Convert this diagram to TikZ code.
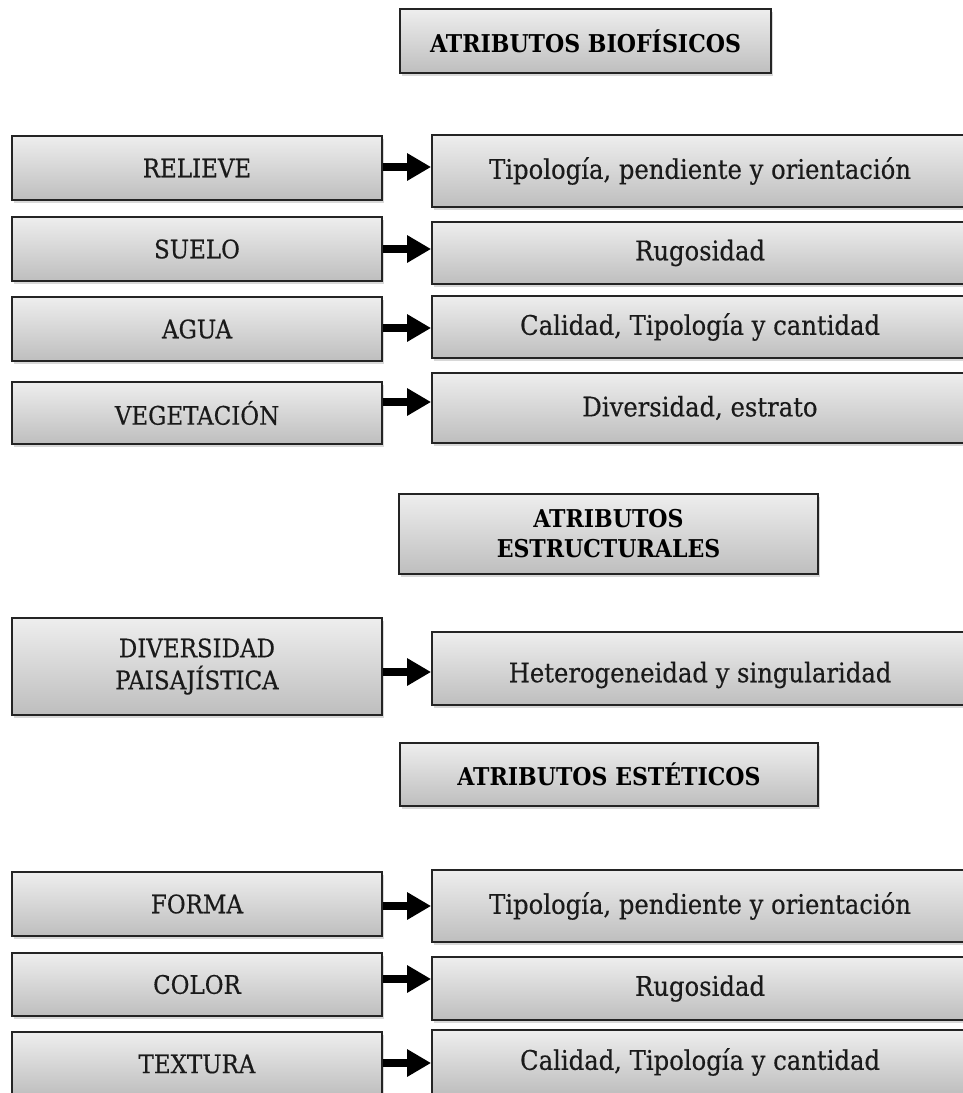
\documentclass[tikz,border=0pt]{standalone}
\usepackage{fontspec}
\setmainfont{DejaVu Serif Condensed}
\usetikzlibrary{arrows.meta,shadows}
\definecolor{boxtop}{RGB}{238,238,238}
\definecolor{boxbot}{RGB}{190,190,190}
\definecolor{boxline}{RGB}{36,36,36}
\definecolor{labeltext}{RGB}{26,26,26}
\tikzset{
  box/.style={draw=boxline, line width=1.8pt, top color=boxtop, bottom color=boxbot,
    drop shadow={shadow xshift=2pt, shadow yshift=-3pt, opacity=0.3},
    inner sep=0pt, align=center, text=labeltext,
    font=\fontsize{25.5}{32}\selectfont\addfontfeature{FakeBold=0.4}},
  rbox/.style={box, font=\fontsize{27}{32}\selectfont\addfontfeature{FakeBold=0.4}},
  headbox/.style={box, text=black, font=\bfseries\fontsize{24.5}{30}\selectfont},
  link/.style={line width=8pt, -{Triangle[length=24pt,width=26pt]}, black}
}
\begin{document}
\begin{tikzpicture}[x=1pt,y=-1pt]
\useasboundingbox (0,0) rectangle (963,1093);
\clip (0,0) rectangle (963,1093);
\fill[white] (0,0) rectangle (963,1093);

% biophysical attributes
\node[headbox, minimum width=371pt, minimum height=64pt] (t1) at (585.5,41) {ATRIBUTOS BIOFÍSICOS};

\node[box, minimum width=370pt, minimum height=64pt] (l1) at (197,168) {RELIEVE};
\node[rbox, minimum width=536pt, minimum height=72pt] (r1) at (700,171) {Tipología, pendiente y orientación};
\node[box, minimum width=370pt, minimum height=64pt] (l2) at (197,249) {SUELO};
\node[rbox, minimum width=536pt, minimum height=62pt] (r2) at (700,253) {Rugosidad};
\node[box, minimum width=370pt, minimum height=64pt] (l3) at (197,329) {AGUA};
\node[rbox, minimum width=536pt, minimum height=62pt] (r3) at (700,327) {Calidad, Tipología y cantidad};
\node[box, minimum width=370pt, minimum height=62pt] (l4) at (197,413) {VEGETACIÓN};
\node[rbox, minimum width=536pt, minimum height=70pt] (r4) at (700,408) {Diversidad, estrato};

% structural attributes
\node[headbox, minimum width=419pt, minimum height=80pt] (t2) at (608.5,534) {ATRIBUTOS\\ESTRUCTURALES};
\node[box, minimum width=370pt, minimum height=97pt] (l5) at (197,666.5) {DIVERSIDAD\\PAISAJÍSTICA};
\node[rbox, minimum width=536pt, minimum height=73pt] (r5) at (700,668.5) {};
\node[text=labeltext, font=\fontsize{27}{32}\selectfont\addfontfeature{FakeBold=0.4}] (r5text) at (700,675) {Heterogeneidad y singularidad};

% aesthetic attributes
\node[headbox, minimum width=418pt, minimum height=63pt] (t3) at (609,774.5) {ATRIBUTOS ESTÉTICOS};
\node[box, minimum width=370pt, minimum height=64pt] (l6) at (197,904) {FORMA};
\node[rbox, minimum width=536pt, minimum height=72pt] (r6) at (700,906) {Tipología, pendiente y orientación};
\node[box, minimum width=370pt, minimum height=63pt] (l7) at (197,984.5) {COLOR};
\node[rbox, minimum width=536pt, minimum height=63pt] (r7) at (700,988.5) {Rugosidad};
\node[box, minimum width=370pt, minimum height=64pt] (l8) at (197,1064) {TEXTURA};
\node[rbox, minimum width=536pt, minimum height=64pt] (r8) at (700,1062) {Calidad, Tipología y cantidad};

% connectors
\draw[link] ([yshift=1pt]l1.east) -- ([yshift=1pt]l1.east -| r1.west);
\draw[link] (l2.east) -- (l2.east -| r2.west);
\draw[link] ([yshift=1pt]l3.east) -- ([yshift=1pt]l3.east -| r3.west);
\draw[link] ([yshift=11pt]l4.east) -- ([yshift=11pt]l4.east -| r4.west);
\draw[link] ([yshift=-5.5pt]l5.east) -- ([yshift=-5.5pt]l5.east -| r5.west);
\draw[link] ([yshift=-2pt]l6.east) -- ([yshift=-2pt]l6.east -| r6.west);
\draw[link] ([yshift=5.5pt]l7.east) -- ([yshift=5.5pt]l7.east -| r7.west);
\draw[link] ([yshift=1pt]l8.east) -- ([yshift=1pt]l8.east -| r8.west);
\end{tikzpicture}
\end{document}
